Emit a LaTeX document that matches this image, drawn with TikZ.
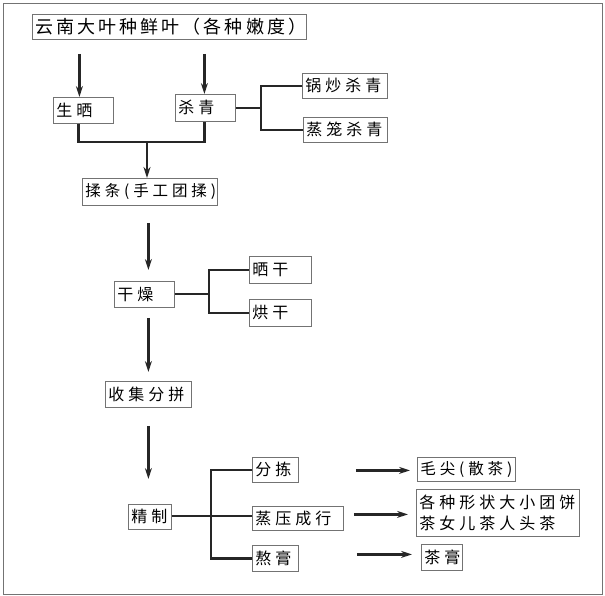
\documentclass[tikz,border=0pt]{standalone}
\usepackage{fontspec}
\newfontfamily\cjk[LetterSpace=25]{Noto Sans CJK SC}
\newfontfamily\cjktitle[LetterSpace=17]{Noto Sans CJK SC}
\usetikzlibrary{arrows.meta}
\begin{document}
\begin{tikzpicture}[x=1pt,y=-1pt,
  box/.style={draw=black!55, line width=0.8pt, anchor=north west, align=left,
    inner xsep=3pt, inner ysep=1pt, font=\cjk\fontsize{16}{21}\selectfont},
  ln/.style={draw=black!85, line width=2.6pt},
  arr/.style={ln, -{Stealth[length=11pt,width=7pt]}},
]
\useasboundingbox (0,0) rectangle (605,596);
\draw[black!55, line width=0.8pt] (3,3) rectangle (602,594);

% boxes: text width = width - 6
\node[box, text width=268pt, minimum height=25pt, font=\cjktitle\fontsize{18}{21}\selectfont] (title) at (32,14) {云南大叶种鲜叶（各种嫩度）};
\node[box, text width=54pt, minimum height=26pt] (shai) at (53,97) {生晒};
\node[box, text width=54pt, minimum height=27pt] (shaq) at (175,94) {杀青};
\node[box, text width=79pt, minimum height=25pt] (guo) at (302,73) {锅炒杀青};
\node[box, text width=78pt, minimum height=25pt] (zheng) at (303,117) {蒸笼杀青};
\node[box, text width=129pt, minimum height=27pt, font=\cjk\fontsize{15.5}{21}\selectfont] (rou) at (82,178) {揉条(手工团揉)};
\node[box, text width=54pt, minimum height=26pt] (gz) at (114,281) {干燥};
\node[box, text width=56pt, minimum height=27pt] (sg) at (249,256) {晒干};
\node[box, text width=56pt, minimum height=27pt] (hg) at (249,299) {烘干};
\node[box, text width=80pt, minimum height=26pt] (sj) at (105,381) {收集分拼};
\node[box, text width=37pt, minimum height=25pt] (jz) at (128,504) {精制};
\node[box, text width=40pt, minimum height=25pt] (fj) at (252,457) {分拣};
\node[box, text width=85pt, minimum height=24pt] (zy) at (252,506) {蒸压成行};
\node[box, text width=40pt, minimum height=26pt] (ag) at (252,545) {熬膏};
\node[box, text width=92pt, minimum height=24pt, font=\cjk\fontsize{15.5}{21}\selectfont] (mj) at (417,457) {毛尖(散茶)};
\node[box, text width=157pt, minimum height=47pt] (big) at (416,489) {各种形状大小团饼\\茶女儿茶人头茶};
\node[box, text width=35pt, minimum height=26pt] (cg) at (421,544) {茶膏};

% top arrows
\draw[arr, shorten <=14pt] ([xshift=-4pt]shai.north |- title.south) -- ([xshift=-4pt]shai.north);
\draw[arr, shorten <=14pt] ([xshift=-1pt]shaq.north |- title.south) -- ([xshift=-1pt]shaq.north);

% merge to rou
\coordinate (j1) at (147,142);
\draw[ln] ([xshift=-5pt]shai.south) |- (j1) -| ([xshift=-1pt]shaq.south);
\draw[arr] (j1) -- (j1 |- rou.north);

% shaqing branches
\coordinate (b1) at (261,108);
\draw[ln] (shaq.east |- b1) -- (b1);
\draw[ln] (guo.west) -| (b1) |- (zheng.west);

% rou -> gz
\draw[arr, shorten <=17pt, shorten >=11pt] ([xshift=-1.5pt]rou.south) -- ([xshift=-1.5pt]rou.south |- gz.north);

% gz branches
\coordinate (b2) at (209,294);
\draw[ln] (gz.east |- b2) -- (b2);
\draw[ln] (sg.west) -| (b2) |- (hg.west);

% gz -> sj
\draw[arr, shorten <=10pt, shorten >=9pt] (sj.north |- gz.south) -- (sj.north);

% sj -> jz
\draw[arr, shorten <=18pt, shorten >=25pt] (sj.south) -- (sj.south |- jz.north);

% jz branches
\coordinate (b3) at (211,516);
\draw[ln] (jz.east |- b3) -- (b3 -| zy.west);
\draw[ln] (fj.west) -| (b3) |- (ag.west);

% right arrows
\draw[arr, shorten <=57pt, shorten >=7pt] ([yshift=-0.5pt]fj.east) -- ([yshift=-0.5pt]fj.east -| mj.west);
\draw[arr, shorten <=10pt, shorten >=8pt] ([yshift=4pt]zy.east) -- ([yshift=4pt]zy.east -| big.west);
\draw[arr, shorten <=58pt, shorten >=9pt] ([yshift=4pt]ag.east) -- ([yshift=4pt]ag.east -| cg.west);
\end{tikzpicture}
\end{document}
